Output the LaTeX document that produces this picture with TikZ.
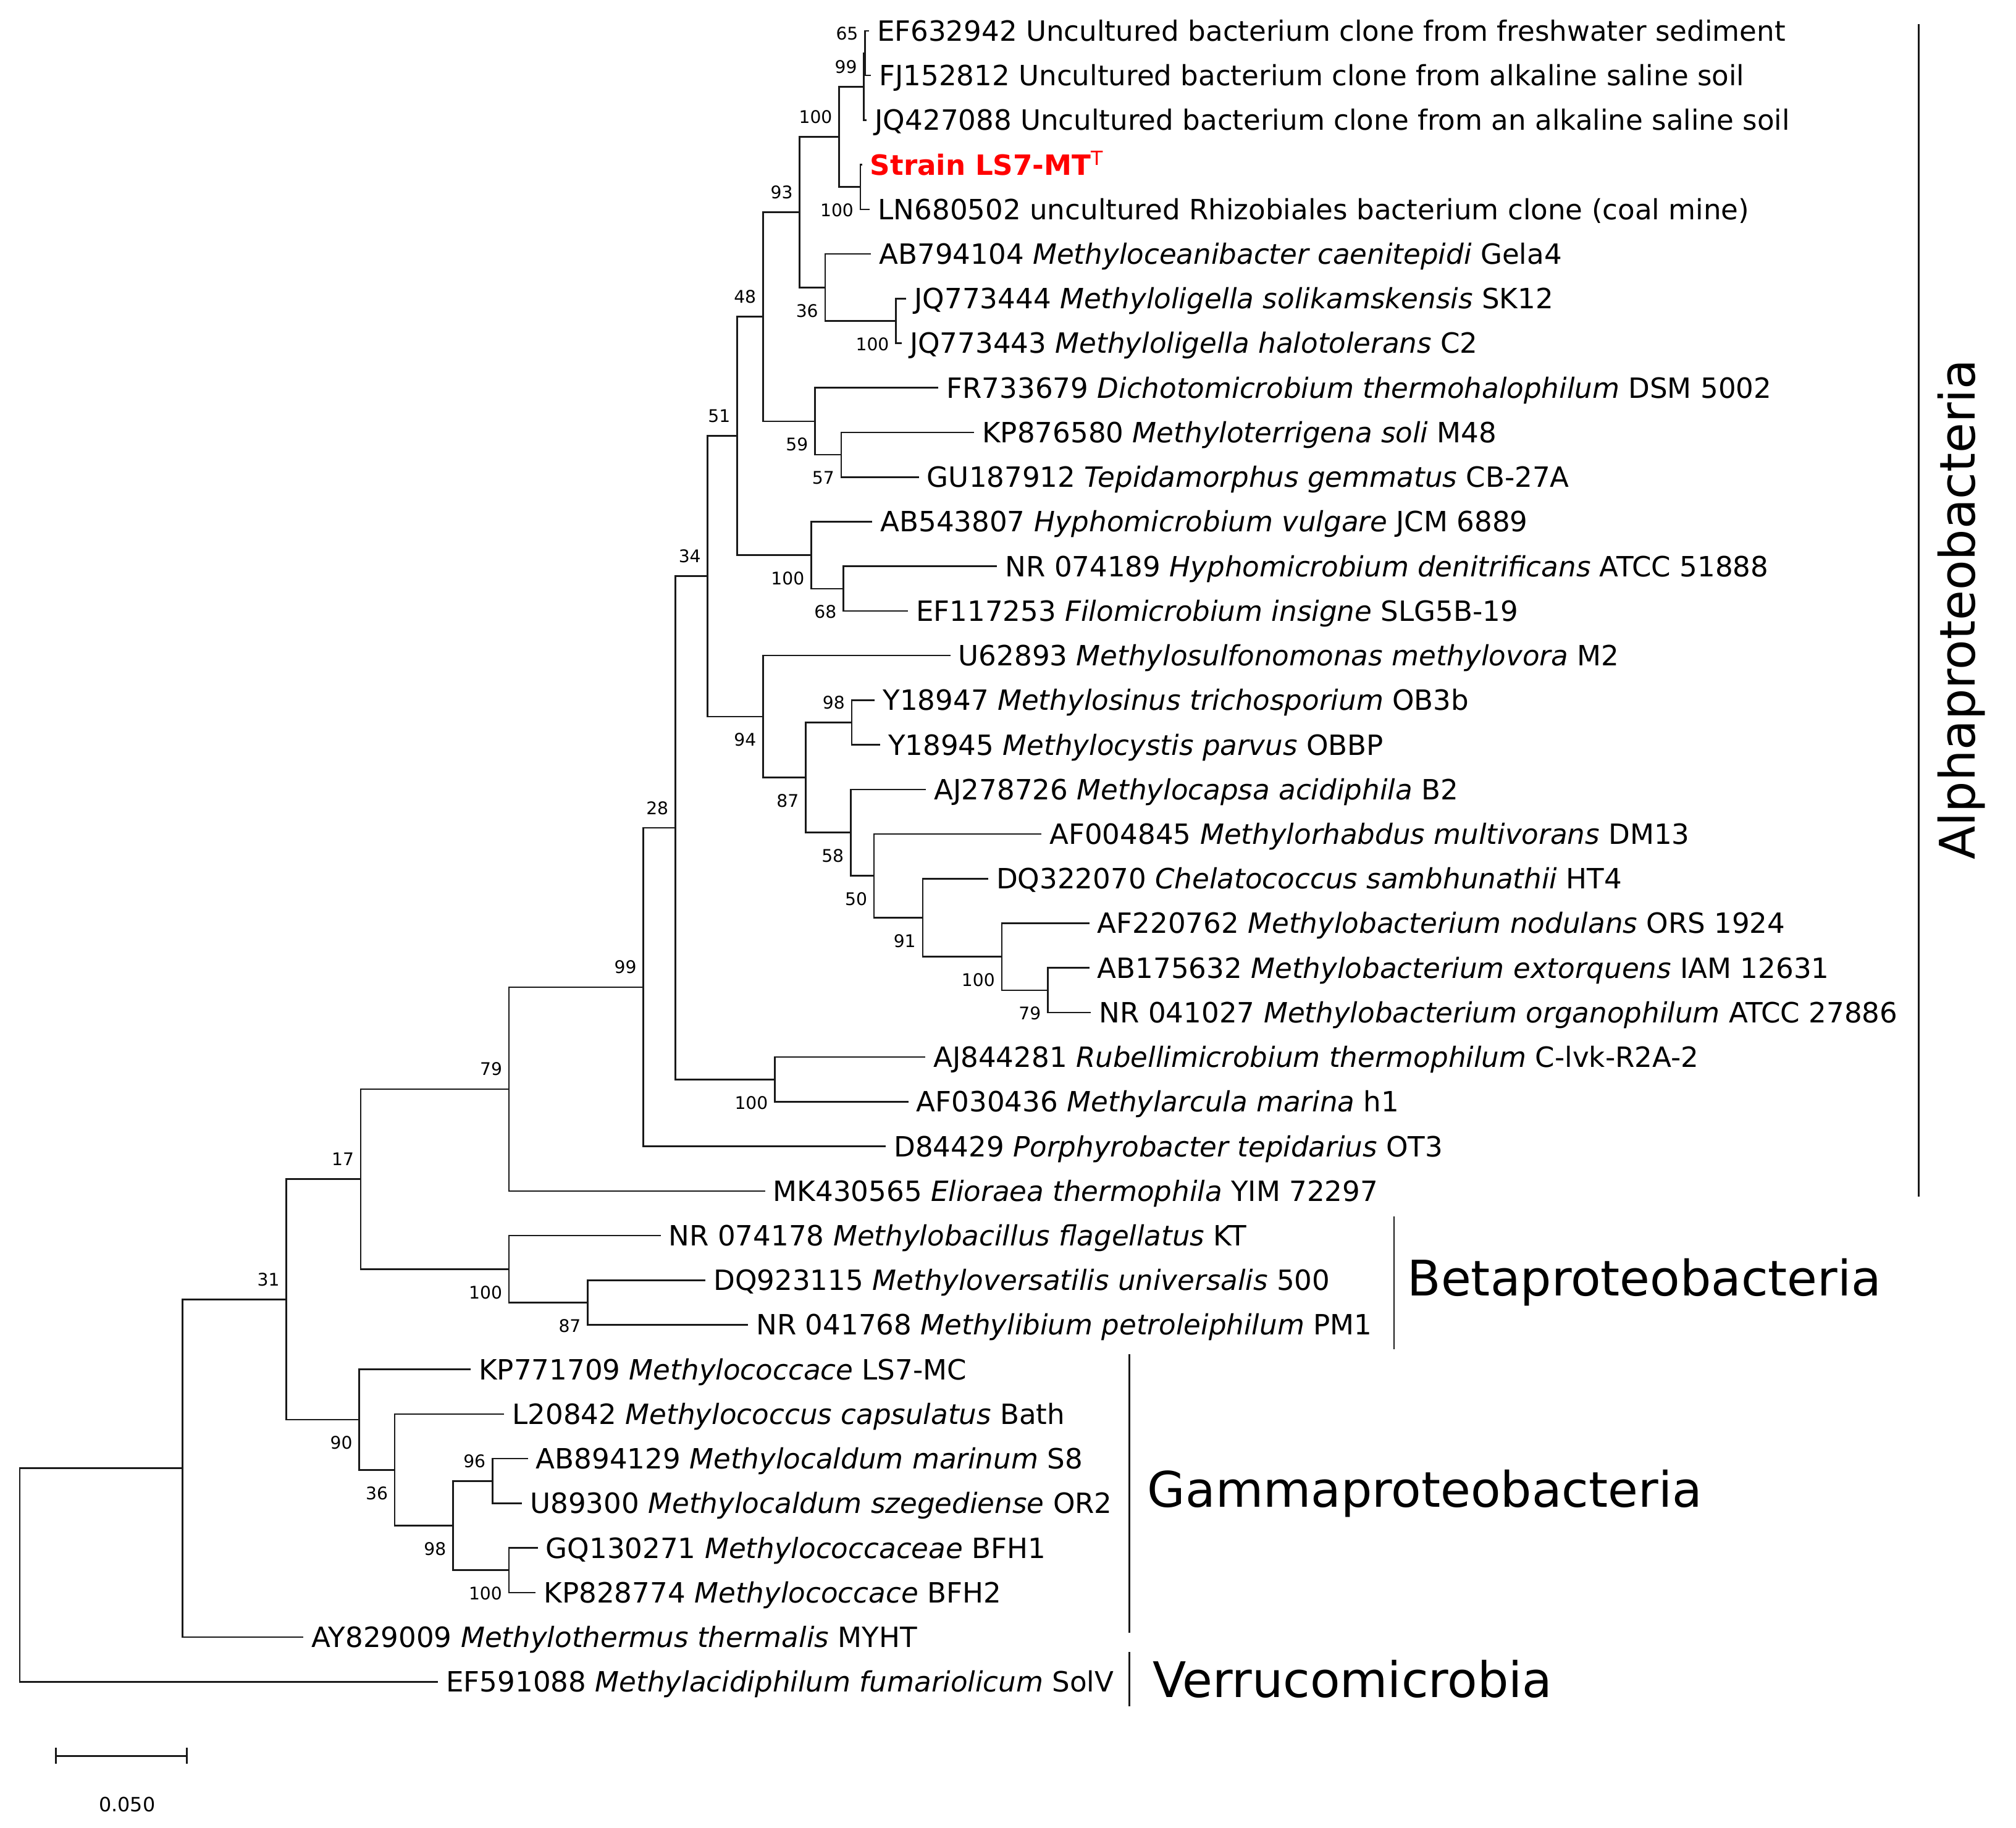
\documentclass[tikz,border=0pt]{standalone}
\usepackage{fontspec}
\setmainfont{DejaVu Sans}

\newcommand{\tipfont}{\fontsize{12.35}{14.8}\selectfont}
\newcommand{\bsfont}{\fontsize{7.7}{9.2}\selectfont}
\newcommand{\cladefont}{\fontsize{21.7}{26}\selectfont}
\newcommand{\barfont}{\fontsize{8.7}{10.4}\selectfont}

\begin{document}
\begin{tikzpicture}[x=0.02cm, y=-0.69406cm,
  branch/.style={line width=0.7pt, black!90},
  tip/.style={anchor=base west, inner sep=0pt, xshift=0.12cm, yshift=-0.158cm, font=\tipfont},
  bsabove/.style={anchor=base east, inner sep=0pt, xshift=-0.1cm, yshift=0.21cm, font=\bsfont},
  bsbelow/.style={anchor=base east, inner sep=0pt, xshift=-0.1cm, yshift=-0.46cm, font=\bsfont},
  clade/.style={anchor=base west, inner sep=0pt, font=\cladefont},
  bracket/.style={line width=0.7pt, black!90},
  scalebar/.style={line width=0.9pt, black!90}]
\useasboundingbox (0,0.3084) rectangle (1568,41.27);
% Tip ends (x in px, y in rows)
\coordinate (EF632942) at (675.8,1);
\coordinate (FJ152812) at (677.4,2);
\coordinate (JQ427088) at (674.2,3);
\coordinate (Strain) at (670.5,4);
\coordinate (LN680502) at (676.6,5);
\coordinate (AB794104) at (677.5,6);
\coordinate (JQ773444) at (704.9,7);
\coordinate (JQ773443) at (701.3,8);
\coordinate (FR733679) at (729.9,9);
\coordinate (KP876580) at (757.6,10);
\coordinate (GU187912) at (714.7,11);
\coordinate (AB543807) at (678.4,12);
\coordinate (NR074189) at (775.5,13);
\coordinate (EF117253) at (706.1,14);
\coordinate (U62893) at (739.1,15);
\coordinate (Y18947) at (680.4,16);
\coordinate (Y18945) at (684.5,17);
\coordinate (AJ278726) at (720.3,18);
\coordinate (AF004845) at (810.0,19);
\coordinate (DQ322070) at (768.6,20);
\coordinate (AF220762) at (847.2,21);
\coordinate (AB175632) at (847.2,22);
\coordinate (NR041027) at (848.6,23);
\coordinate (AJ844281) at (719.6,24);
\coordinate (AF030436) at (706.5,25);
\coordinate (D84429) at (689.0,26);
\coordinate (MK430565) at (595.0,27);
\coordinate (NR074178) at (513.8,28);
\coordinate (DQ923115) at (548.7,29);
\coordinate (NR041768) at (581.8,30);
\coordinate (KP771709) at (366.1,31);
\coordinate (L20842) at (392.2,32);
\coordinate (AB894129) at (410.5,33);
\coordinate (U89300) at (406.0,34);
\coordinate (GQ130271) at (418.2,35);
\coordinate (KP828774) at (416.7,36);
\coordinate (AY829009) at (235.9,37);
\coordinate (EF591088) at (340.7,38);
% Internal nodes
\coordinate (n65) at (672.8,1.5);
\coordinate (n99a) at (671.9,2.25);
\coordinate (n100a) at (669.2,4.5);
\coordinate (n100b) at (652.6,3.375);
\coordinate (n93) at (621.9,5.0625);
\coordinate (n36a) at (641.7,6.75);
\coordinate (n100c) at (696.8,7.5);
\coordinate (n48) at (593.4,7.40625);
\coordinate (n59) at (633.8,9.75);
\coordinate (n57) at (654.2,10.5);
\coordinate (n51) at (573.3,10.078125);
\coordinate (n100d) at (630.9,12.75);
\coordinate (n68) at (655.9,13.5);
\coordinate (n34) at (550.4,13.22265625);
\coordinate (n94) at (593.5,16.3671875);
\coordinate (n87a) at (626.6,17.734375);
\coordinate (n98a) at (662.4,16.5);
\coordinate (n58) at (661.6,18.96875);
\coordinate (n50) at (679.8,19.9375);
\coordinate (n91) at (717.6,20.875);
\coordinate (n100e) at (779.1,21.75);
\coordinate (n79a) at (814.9,22.5);
\coordinate (n28) at (525.2,18.861328);
\coordinate (n100f) at (602.6,24.5);
\coordinate (n99b) at (500.4,22.430664);
\coordinate (n79b) at (395.9,24.715332);
\coordinate (n17) at (280.6,26.732666);
\coordinate (n100g) at (395.9,28.75);
\coordinate (n87b) at (457.1,29.5);
\coordinate (n31) at (222.7,29.428833);
\coordinate (n90) at (279.4,32.125);
\coordinate (n36b) at (307.0,33.25);
\coordinate (n98b) at (352.3,34.5);
\coordinate (n96) at (383.0,33.5);
\coordinate (n100h) at (395.8,35.5);
\coordinate (nA) at (141.9,33.214417);
\coordinate (root) at (15.3,35.607208);
% Draw branches
\draw[branch] (EF632942) -| (n65) |- (FJ152812);
\draw[branch] (n65) -| (n99a) |- (JQ427088);
\draw[branch] (Strain) -| (n100a) |- (LN680502);
\draw[branch] (n99a) -| (n100b) |- (n100a);
\draw[branch] (JQ773444) -| (n100c) |- (JQ773443);
\draw[branch] (AB794104) -| (n36a) |- (n100c);
\draw[branch] (n100b) -| (n93) |- (n36a);
\draw[branch] (KP876580) -| (n57) |- (GU187912);
\draw[branch] (FR733679) -| (n59) |- (n57);
\draw[branch] (n93) -| (n48) |- (n59);
\draw[branch] (NR074189) -| (n68) |- (EF117253);
\draw[branch] (AB543807) -| (n100d) |- (n68);
\draw[branch] (n48) -| (n51) |- (n100d);
\draw[branch] (Y18947) -| (n98a) |- (Y18945);
\draw[branch] (AB175632) -| (n79a) |- (NR041027);
\draw[branch] (AF220762) -| (n100e) |- (n79a);
\draw[branch] (DQ322070) -| (n91) |- (n100e);
\draw[branch] (AF004845) -| (n50) |- (n91);
\draw[branch] (AJ278726) -| (n58) |- (n50);
\draw[branch] (n98a) -| (n87a) |- (n58);
\draw[branch] (U62893) -| (n94) |- (n87a);
\draw[branch] (n51) -| (n34) |- (n94);
\draw[branch] (AJ844281) -| (n100f) |- (AF030436);
\draw[branch] (n34) -| (n28) |- (n100f);
\draw[branch] (n28) -| (n99b) |- (D84429);
\draw[branch] (n99b) -| (n79b) |- (MK430565);
\draw[branch] (DQ923115) -| (n87b) |- (NR041768);
\draw[branch] (NR074178) -| (n100g) |- (n87b);
\draw[branch] (n79b) -| (n17) |- (n100g);
\draw[branch] (AB894129) -| (n96) |- (U89300);
\draw[branch] (GQ130271) -| (n100h) |- (KP828774);
\draw[branch] (n96) -| (n98b) |- (n100h);
\draw[branch] (L20842) -| (n36b) |- (n98b);
\draw[branch] (KP771709) -| (n90) |- (n36b);
\draw[branch] (n17) -| (n31) |- (n90);
\draw[branch] (n31) -| (nA) |- (AY829009);
\draw[branch] (nA) -| (root) |- (EF591088);
% Tip labels
\node[tip] (lEF632942) at (EF632942) {EF632942 Uncultured bacterium clone from freshwater sediment};
\node[tip] (lFJ152812) at (FJ152812) {FJ152812 Uncultured bacterium clone from alkaline saline soil};
\node[tip] (lJQ427088) at (JQ427088) {JQ427088 Uncultured bacterium clone from an alkaline saline soil};
\node[tip, text=red] (lStrain) at (Strain) {\bfseries Strain LS7-MT\textsuperscript{\mdseries T}};
\node[tip] (lLN680502) at (LN680502) {LN680502 uncultured Rhizobiales bacterium clone (coal mine)};
\node[tip] (lAB794104) at (AB794104) {AB794104 \textit{Methyloceanibacter caenitepidi} Gela4};
\node[tip] (lJQ773444) at (JQ773444) {JQ773444 \textit{Methyloligella solikamskensis} SK12};
\node[tip] (lJQ773443) at (JQ773443) {JQ773443 \textit{Methyloligella halotolerans} C2};
\node[tip] (lFR733679) at (FR733679) {FR733679 \textit{Dichotomicrobium thermohalophilum} DSM 5002};
\node[tip] (lKP876580) at (KP876580) {KP876580 \textit{Methyloterrigena soli} M48};
\node[tip] (lGU187912) at (GU187912) {GU187912 \textit{Tepidamorphus gemmatus} CB-27A};
\node[tip] (lAB543807) at (AB543807) {AB543807 \textit{Hyphomicrobium vulgare} JCM 6889};
\node[tip] (lNR074189) at (NR074189) {NR 074189 \textit{Hyphomicrobium denitrificans} ATCC 51888};
\node[tip] (lEF117253) at (EF117253) {EF117253 \textit{Filomicrobium insigne} SLG5B-19};
\node[tip] (lU62893) at (U62893) {U62893 \textit{Methylosulfonomonas methylovora} M2};
\node[tip] (lY18947) at (Y18947) {Y18947 \textit{Methylosinus trichosporium} OB3b};
\node[tip] (lY18945) at (Y18945) {Y18945 \textit{Methylocystis parvus} OBBP};
\node[tip] (lAJ278726) at (AJ278726) {AJ278726 \textit{Methylocapsa acidiphila} B2};
\node[tip] (lAF004845) at (AF004845) {AF004845 \textit{Methylorhabdus multivorans} DM13};
\node[tip] (lDQ322070) at (DQ322070) {DQ322070 \textit{Chelatococcus sambhunathii} HT4};
\node[tip] (lAF220762) at (AF220762) {AF220762 \textit{Methylobacterium nodulans} ORS 1924};
\node[tip] (lAB175632) at (AB175632) {AB175632 \textit{Methylobacterium extorquens} IAM 12631};
\node[tip] (lNR041027) at (NR041027) {NR 041027 \textit{Methylobacterium organophilum} ATCC 27886};
\node[tip] (lAJ844281) at (AJ844281) {AJ844281 \textit{Rubellimicrobium thermophilum} C-lvk-R2A-2};
\node[tip] (lAF030436) at (AF030436) {AF030436 \textit{Methylarcula marina} h1};
\node[tip] (lD84429) at (D84429) {D84429 \textit{Porphyrobacter tepidarius} OT3};
\node[tip] (lMK430565) at (MK430565) {MK430565 \textit{Elioraea thermophila} YIM 72297};
\node[tip] (lNR074178) at (NR074178) {NR 074178 \textit{Methylobacillus flagellatus} KT};
\node[tip] (lDQ923115) at (DQ923115) {DQ923115 \textit{Methyloversatilis universalis} 500};
\node[tip] (lNR041768) at (NR041768) {NR 041768 \textit{Methylibium petroleiphilum} PM1};
\node[tip] (lKP771709) at (KP771709) {KP771709 \textit{Methylococcace} LS7-MC};
\node[tip] (lL20842) at (L20842) {L20842 \textit{Methylococcus capsulatus} Bath};
\node[tip] (lAB894129) at (AB894129) {AB894129 \textit{Methylocaldum marinum} S8};
\node[tip] (lU89300) at (U89300) {U89300 \textit{Methylocaldum szegediense} OR2};
\node[tip] (lGQ130271) at (GQ130271) {GQ130271 \textit{Methylococcaceae} BFH1};
\node[tip] (lKP828774) at (KP828774) {KP828774 \textit{Methylococcace} BFH2};
\node[tip] (lAY829009) at (AY829009) {AY829009 \textit{Methylothermus thermalis} MYHT};
\node[tip] (lEF591088) at (EF591088) {EF591088 \textit{Methylacidiphilum fumariolicum} SolV};
% Bootstrap values
\node[bsabove] (b65) at (n65) {65};
\node[bsabove] (b99a) at (n99a) {99};
\node[bsabove] (b100b) at (n100b) {100};
\node[bsbelow] (b100a) at (n100a) {100};
\node[bsabove] (b93) at (n93) {93};
\node[bsbelow] (b36a) at (n36a) {36};
\node[bsbelow] (b100c) at (n100c) {100};
\node[bsabove] (b48) at (n48) {48};
\node[bsbelow] (b59) at (n59) {59};
\node[bsbelow] (b57) at (n57) {57};
\node[bsabove] (b51) at (n51) {51};
\node[bsbelow] (b100d) at (n100d) {100};
\node[bsbelow] (b68) at (n68) {68};
\node[bsabove] (b34) at (n34) {34};
\node[bsbelow] (b94) at (n94) {94};
\node[bsabove] (b98a) at (n98a) {98};
\node[bsbelow] (b87a) at (n87a) {87};
\node[bsbelow] (b58) at (n58) {58};
\node[bsbelow] (b50) at (n50) {50};
\node[bsbelow] (b91) at (n91) {91};
\node[bsbelow] (b100e) at (n100e) {100};
\node[bsbelow] (b79a) at (n79a) {79};
\node[bsabove] (b28) at (n28) {28};
\node[bsbelow] (b100f) at (n100f) {100};
\node[bsabove] (b99b) at (n99b) {99};
\node[bsabove] (b79b) at (n79b) {79};
\node[bsabove] (b17) at (n17) {17};
\node[bsbelow] (b100g) at (n100g) {100};
\node[bsbelow] (b87b) at (n87b) {87};
\node[bsabove] (b31) at (n31) {31};
\node[bsbelow] (b90) at (n90) {90};
\node[bsbelow] (b36b) at (n36b) {36};
\node[bsbelow] (b98b) at (n98b) {98};
\node[bsabove] (b96) at (n96) {96};
\node[bsbelow] (b100h) at (n100h) {100};
% Group brackets
\coordinate (alphaTop) at (1492.3,0.853);
\coordinate (alphaBot) at (1492.3,27.128);
\draw[bracket] (alphaTop) -- (alphaBot);
\node[rotate=90, anchor=base, inner sep=0pt, font=\cladefont] (alpha) at (1536,13.967) {Alphaproteobacteria};
\coordinate (betaTop) at (1084.3,27.568);
\coordinate (betaBot) at (1084.3,30.548);
\draw[bracket] (betaTop) -- (betaBot);
\node[clade] (beta) at (1094.3,29.355) {Betaproteobacteria};
\coordinate (gammaTop) at (878.4,30.652);
\coordinate (gammaBot) at (878.4,36.904);
\draw[bracket] (gammaTop) -- (gammaBot);
\node[clade] (gamma) at (892.2,34.081) {Gammaproteobacteria};
\coordinate (verrTop) at (878.4,37.337);
\coordinate (verrBot) at (878.4,38.548);
\draw[bracket] (verrTop) -- (verrBot);
\node[clade] (verr) at (896.2,38.346) {Verrucomicrobia};
% Scale bar
\coordinate (sbL) at (43.6,39.66);
\coordinate (sbR) at (145.4,39.66);
\draw[scalebar] (sbL) -- (sbR);
\draw[scalebar] (sbL) ++(0,-0.18) -- ++(0,0.36);
\draw[scalebar] (sbR) ++(0,-0.18) -- ++(0,0.36);
\node[anchor=base, inner sep=0pt, font=\barfont] (sblabel) at (98.9,40.91) {0.050};
\end{tikzpicture}
\end{document}
